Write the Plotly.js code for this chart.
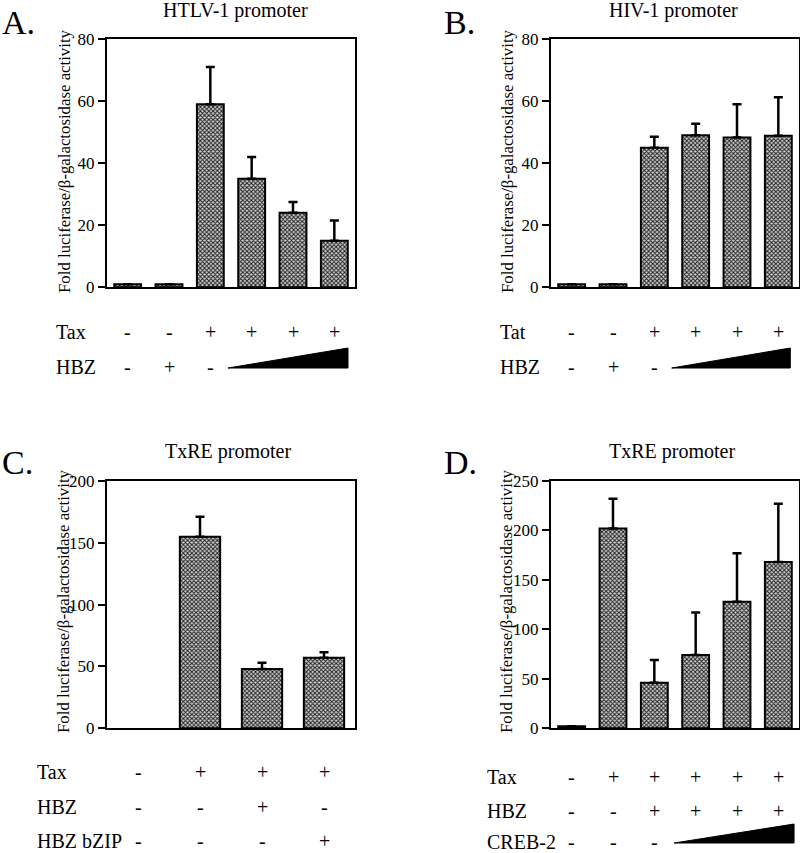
<!DOCTYPE html>
<html>
<head>
<meta charset="utf-8">
<script src="https://cdn.plot.ly/plotly-3.0.1.min.js"></script>
<style>html,body{margin:0;padding:0;background:#fff;}#chart{width:800px;height:853px;}</style>
</head>
<body>
<div id="chart"></div>
<script>
// ---------------- DATA ----------------
const lanes6 = [0, 1, 2, 3, 4, 5];
const lanes4 = [0, 1, 2, 3];

// Panel A: HTLV-1 promoter
const titleA = "HTLV-1 promoter";
const valuesA = [1, 1, 59, 35, 24, 15];
const errA = [null, null, 12, 7, 3.5, 6.5];
const rowNamesA = ["Tax", "HBZ"];
const rowTaxA = ["-", "-", "+", "+", "+", "+"];
const rowHbzA = ["-", "+", "-", "", "", ""];

// Panel B: HIV-1 promoter
const titleB = "HIV-1 promoter";
const valuesB = [1, 1, 45, 49, 48.3, 48.8];
const errB = [null, null, 3.5, 3.7, 10.7, 12.4];
const rowNamesB = ["Tat", "HBZ"];
const rowTatB = ["-", "-", "+", "+", "+", "+"];
const rowHbzB = ["-", "+", "-", "", "", ""];

// Panel C: TxRE promoter
const titleC = "TxRE promoter";
const valuesC = [null, 155, 48, 57];
const errC = [null, 16, 5, 4.5];
const rowNamesC = ["Tax", "HBZ", "HBZ bZIP"];
const rowTaxC = ["-", "+", "+", "+"];
const rowHbzC = ["-", "-", "+", "-"];
const rowBzipC = ["-", "-", "-", "+"];

// Panel D: TxRE promoter
const titleD = "TxRE promoter";
const valuesD = [2, 202, 46, 74, 128, 168];
const errD = [null, 30, 23, 43, 49, 59];
const rowNamesD = ["Tax", "HBZ", "CREB-2"];
const rowTaxD = ["-", "+", "+", "+", "+", "+"];
const rowHbzD = ["-", "-", "+", "+", "+", "+"];
const rowCrebD = ["-", "-", "-", "", "", ""];

const yTitle = "Fold luciferase/\u03B2-galactosidase activity";
const panelLetters = ["A.", "B.", "C.", "D."];

// ---------------- LAYOUT HELPERS ----------------
const W = 800, H = 853;
const px = v => v / W;
const py = v => 1 - v / H;
const FONT = "'Liberation Serif', 'Times New Roman', serif";

function barTrace(x, y, err, xa, ya) {
  return {
    type: "bar", x: x, y: y, xaxis: xa, yaxis: ya,
    width: 0.65,
    marker: {
      color: "#7a7a7a",
      pattern: { shape: "x", size: 3, solidity: 0.55, fgcolor: "#1e1e1e", bgcolor: "#d2d2d2" },
      line: { color: "#000", width: 2 }
    },
    error_y: { type: "data", symmetric: false, array: err, arrayminus: err.map(() => 0),
               color: "#000", thickness: 2.5, width: 4.5 },
    hoverinfo: "skip", showlegend: false
  };
}

const data = [
  barTrace(lanes6, valuesA, errA, "x", "y"),
  barTrace(lanes6, valuesB, errB, "x2", "y2"),
  barTrace(lanes4, valuesC, errC, "x3", "y3"),
  barTrace(lanes6, valuesD, errD, "x4", "y4")
];

function xax(domain, n) {
  return { domain: domain, range: [-0.5, n - 0.5], showticklabels: false, ticks: "",
           showgrid: false, zeroline: false, showline: true, mirror: true,
           linecolor: "#000", linewidth: 2, fixedrange: true };
}
function yax(domain, max, dtick) {
  return { domain: domain, range: [0, max], dtick: dtick, tick0: 0, ticks: "outside",
           ticklen: 7, tickwidth: 2, tickcolor: "#000", showgrid: false, zeroline: false,
           showline: true, mirror: true, linecolor: "#000", linewidth: 2,
           tickfont: { family: FONT, size: 17, color: "#000" }, fixedrange: true };
}

const topY = [py(287.3), py(39)];
const botY = [py(728.3), py(481)];
const leftX = [px(107), px(355)];
const rightX = [px(551), px(799)];

const annotations = [];
const shapes = [];

function addText(text, x, y, xref, size, opts) {
  annotations.push(Object.assign({
    text: text, x: x, y: y, xref: xref, yref: "paper", showarrow: false,
    xanchor: "center", yanchor: "middle",
    font: { family: FONT, size: size, color: "#000" }
  }, opts || {}));
}

function addRow(name, labelX, values, lanes, xref, yPix) {
  addText(name, px(labelX), py(yPix), "paper", 20, { xanchor: "left" });
  values.forEach((s, i) => { if (s) addText(s, lanes[i], py(yPix), xref, 20); });
}

function addWedge(xref, lane0, lane1, yBottomPix, yTopPix) {
  shapes.push({
    type: "path", xref: xref, yref: "paper",
    path: `M${lane0},${py(yBottomPix)} L${lane1},${py(yBottomPix)} L${lane1},${py(yTopPix)} Z`,
    fillcolor: "#000", line: { color: "#000", width: 1 }
  });
}

// Titles, panel letters, y titles
addText(titleA, px(235), py(10), "paper", 20);
addText(titleB, px(673), py(10), "paper", 20);
addText(titleC, px(228), py(451), "paper", 20);
addText(titleD, px(672), py(451), "paper", 20);

addText(panelLetters[0], px(0), py(22), "paper", 34, { xanchor: "left" });
addText(panelLetters[1], px(442), py(22), "paper", 34, { xanchor: "left" });
addText(panelLetters[2], px(0), py(462), "paper", 34, { xanchor: "left" });
addText(panelLetters[3], px(442), py(462), "paper", 34, { xanchor: "left" });

addText(yTitle, px(64), py(161), "paper", 16.8, { textangle: -90 });
addText(yTitle, px(507), py(161), "paper", 16.8, { textangle: -90 });
addText(yTitle, px(63), py(601), "paper", 16.8, { textangle: -90 });
addText(yTitle, px(506), py(601), "paper", 16.8, { textangle: -90 });

// Condition tables
addRow(rowNamesA[0], 54, rowTaxA, lanes6, "x", 332);
addRow(rowNamesA[1], 54, rowHbzA, lanes6, "x", 367);
addWedge("x", 2.43, 5.33, 368, 348);

addRow(rowNamesB[0], 498, rowTatB, lanes6, "x2", 332);
addRow(rowNamesB[1], 498, rowHbzB, lanes6, "x2", 367);
addWedge("x2", 2.42, 5.29, 368, 348);

addRow(rowNamesC[0], 35, rowTaxC, lanes4, "x3", 772);
addRow(rowNamesC[1], 35, rowHbzC, lanes4, "x3", 807);
addRow(rowNamesC[2], 35, rowBzipC, lanes4, "x3", 841);

addRow(rowNamesD[0], 485, rowTaxD, lanes6, "x4", 777);
addRow(rowNamesD[1], 485, rowHbzD, lanes6, "x4", 811);
addRow(rowNamesD[2], 485, rowCrebD, lanes6, "x4", 842);
addWedge("x4", 2.48, 5.38, 843, 824);

const layout = {
  width: W, height: H,
  margin: { l: 0, r: 0, t: 0, b: 0, pad: 0 },
  paper_bgcolor: "#fff", plot_bgcolor: "#fff",
  font: { family: FONT, color: "#000" },
  showlegend: false,
  xaxis: xax(leftX, 6), yaxis: yax(topY, 80, 20),
  xaxis2: xax(rightX, 6), yaxis2: Object.assign(yax(topY, 80, 20), { anchor: "x2" }),
  xaxis3: xax(leftX, 4), yaxis3: Object.assign(yax(botY, 200, 50), { anchor: "x3" }),
  xaxis4: xax(rightX, 6), yaxis4: Object.assign(yax(botY, 250, 50), { anchor: "x4" }),
  annotations: annotations,
  shapes: shapes
};
layout.xaxis.anchor = "y";
layout.xaxis2.anchor = "y2";
layout.xaxis3.anchor = "y3";
layout.xaxis4.anchor = "y4";

Plotly.newPlot("chart", data, layout, { displayModeBar: false, staticPlot: true });
</script>
</body>
</html>
